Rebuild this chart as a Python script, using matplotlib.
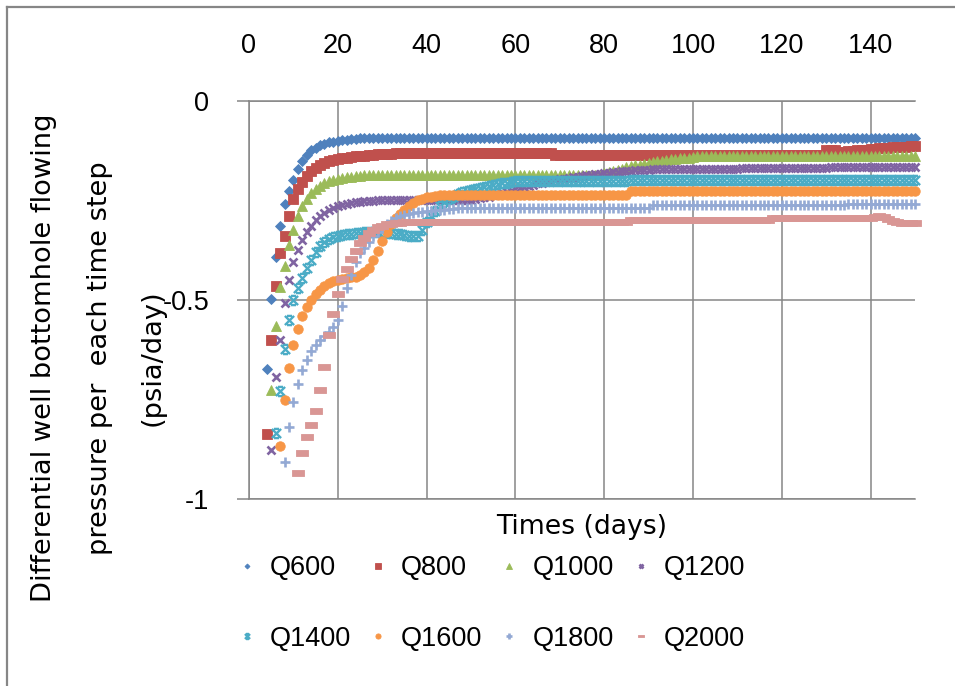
import numpy as np
import matplotlib
matplotlib.use("Agg")
import matplotlib.pyplot as plt
from matplotlib.path import Path
from matplotlib.lines import Line2D

# ---------------- data ----------------
series_names = ["Q600", "Q800", "Q1000", "Q1200", "Q1400", "Q1600", "Q1800", "Q2000"]
start_days = [4, 4, 5, 5, 6, 7, 8, 11]   # first time step (days) of each series, step = 1 day

q600 = [
    -0.673, -0.497, -0.391, -0.313, -0.258, -0.225, -0.198, -0.172, -0.150, -0.135,
    -0.124, -0.117, -0.111, -0.107, -0.104, -0.102, -0.100, -0.098, -0.097, -0.096,
    -0.095, -0.094,
    -0.093, -0.093, -0.093, -0.093, -0.093, -0.093, -0.093, -0.093, -0.093, -0.093,
    -0.093, -0.093, -0.093, -0.093, -0.093, -0.093, -0.093, -0.093, -0.093, -0.093,
    -0.093, -0.093, -0.093, -0.093, -0.093, -0.093, -0.093, -0.093, -0.093, -0.093,
    -0.093, -0.093, -0.093, -0.093, -0.093, -0.093, -0.093, -0.093, -0.093, -0.093,
    -0.093, -0.093, -0.093, -0.093, -0.093, -0.093, -0.093, -0.093, -0.093, -0.093,
    -0.093, -0.093, -0.093, -0.093, -0.093, -0.093, -0.093, -0.093, -0.093, -0.093,
    -0.093, -0.093, -0.093, -0.093, -0.093, -0.093, -0.093, -0.093, -0.093, -0.093,
    -0.093, -0.093, -0.093, -0.093, -0.093, -0.093, -0.093, -0.093, -0.093, -0.093,
    -0.093, -0.093, -0.093, -0.093, -0.093, -0.093, -0.093, -0.093, -0.093, -0.093,
    -0.093, -0.093, -0.093, -0.093, -0.093, -0.093, -0.093, -0.093, -0.093, -0.093,
    -0.093, -0.093, -0.093, -0.093, -0.093, -0.093, -0.093, -0.093, -0.093, -0.093,
    -0.093, -0.093, -0.093, -0.093, -0.093, -0.093, -0.093, -0.093, -0.093, -0.093,
    -0.093, -0.093, -0.093, -0.093, -0.093,
]

q800 = [
    -0.836, -0.601, -0.465, -0.381, -0.338, -0.288, -0.247, -0.222, -0.203, -0.188,
    -0.177, -0.168, -0.161, -0.156, -0.152, -0.149, -0.146, -0.144, -0.142, -0.140,
    -0.139, -0.138, -0.137, -0.136, -0.135, -0.134, -0.133, -0.132, -0.132, -0.131,
    -0.131,
    -0.130, -0.130, -0.130, -0.130, -0.130, -0.130, -0.130, -0.130, -0.130, -0.130,
    -0.130, -0.130, -0.130, -0.130, -0.130, -0.130, -0.130, -0.130, -0.130, -0.130,
    -0.130, -0.130, -0.130, -0.130, -0.130, -0.130, -0.130, -0.130, -0.130, -0.130,
    -0.130, -0.130, -0.130, -0.130,
    -0.135, -0.135, -0.135, -0.135, -0.135, -0.135, -0.135, -0.135, -0.135, -0.135,
    -0.135, -0.135, -0.135, -0.135, -0.135, -0.135, -0.135, -0.135, -0.135, -0.135,
    -0.135, -0.135, -0.135, -0.135, -0.135, -0.135, -0.135, -0.135, -0.135, -0.135,
    -0.135, -0.135, -0.135, -0.135, -0.135, -0.135, -0.135, -0.135, -0.135, -0.135,
    -0.135, -0.135, -0.135, -0.135, -0.135, -0.135, -0.135, -0.135, -0.135, -0.135,
    -0.135, -0.135, -0.135, -0.135, -0.135, -0.135, -0.135, -0.135, -0.135, -0.135,
    -0.135,
    -0.123, -0.122, -0.122, -0.128, -0.128, -0.126, -0.125, -0.124, -0.123, -0.122,
    -0.121, -0.120, -0.119, -0.118, -0.117, -0.116, -0.116, -0.115, -0.115, -0.114,
    -0.114,
]

q1000 = [
    -0.727, -0.566, -0.467, -0.415, -0.361, -0.323, -0.289, -0.264, -0.245, -0.231,
    -0.221, -0.213, -0.207, -0.202, -0.199, -0.196, -0.194, -0.192, -0.190, -0.189,
    -0.188,
    -0.187, -0.187, -0.187, -0.187, -0.187, -0.187, -0.187, -0.187, -0.187, -0.187,
    -0.187, -0.187, -0.187, -0.187, -0.187, -0.187, -0.187, -0.187, -0.187, -0.187,
    -0.187, -0.187, -0.187, -0.187, -0.187, -0.187, -0.187, -0.187, -0.187, -0.187,
    -0.187, -0.187, -0.187, -0.187, -0.187, -0.187, -0.187, -0.187, -0.187, -0.187,
    -0.187, -0.187, -0.187, -0.187, -0.187, -0.187, -0.187, -0.187, -0.187, -0.187,
    -0.187, -0.187, -0.187,
    -0.185, -0.182, -0.179, -0.176, -0.173, -0.170, -0.167, -0.164, -0.162, -0.160,
    -0.158, -0.156, -0.154, -0.152, -0.150, -0.148, -0.146, -0.145, -0.144, -0.143,
    -0.142, -0.141,
    -0.139, -0.139, -0.139, -0.139, -0.139, -0.139, -0.139, -0.139, -0.139, -0.139,
    -0.139, -0.139, -0.139, -0.139, -0.139, -0.139, -0.139, -0.139, -0.139, -0.139,
    -0.139, -0.139, -0.139, -0.139, -0.139, -0.139, -0.139, -0.139, -0.139, -0.139,
    -0.139, -0.139, -0.139, -0.139, -0.139, -0.139, -0.139, -0.139, -0.139, -0.139,
    -0.139, -0.139, -0.139, -0.139, -0.139, -0.139, -0.139, -0.139, -0.139, -0.139,
]

q1200 = [
    -0.876, -0.693, -0.601, -0.507, -0.450, -0.405, -0.375, -0.350, -0.330, -0.314,
    -0.300, -0.290, -0.281, -0.274, -0.269, -0.265, -0.262, -0.259, -0.257, -0.255,
    -0.253, -0.252, -0.251, -0.250, -0.249,
    -0.248, -0.248, -0.248, -0.248, -0.248, -0.248, -0.248, -0.248, -0.248, -0.248,
    -0.248, -0.248, -0.248, -0.248, -0.248, -0.248, -0.248, -0.248, -0.248, -0.248,
    -0.248,
    -0.246, -0.244, -0.242, -0.240, -0.237, -0.234, -0.231, -0.228, -0.225, -0.222,
    -0.219, -0.216, -0.213, -0.210, -0.207, -0.205, -0.203, -0.201, -0.199, -0.197,
    -0.195, -0.193, -0.191, -0.190, -0.188, -0.187, -0.185, -0.184, -0.183, -0.181,
    -0.180, -0.179, -0.178, -0.177, -0.176, -0.175, -0.174, -0.174, -0.173, -0.173,
    -0.171, -0.171, -0.171, -0.171, -0.171, -0.171, -0.171, -0.171, -0.171, -0.171,
    -0.171, -0.171, -0.171, -0.171, -0.171, -0.171, -0.171, -0.171, -0.171, -0.171,
    -0.169, -0.169, -0.169, -0.169, -0.169, -0.169, -0.169, -0.169, -0.169, -0.169,
    -0.169, -0.169, -0.169, -0.169, -0.169, -0.169, -0.169, -0.169, -0.169, -0.169,
    -0.167, -0.167, -0.167, -0.167, -0.167, -0.167, -0.167, -0.167, -0.167, -0.167,
    -0.167, -0.167, -0.167, -0.167, -0.167, -0.167, -0.167, -0.167, -0.167, -0.167,
]

q1400 = [
    -0.834, -0.729, -0.624, -0.551, -0.499, -0.470, -0.445, -0.420, -0.400, -0.380,
    -0.365, -0.355, -0.347, -0.342, -0.339, -0.337, -0.335, -0.333, -0.332, -0.331,
    -0.330, -0.330, -0.330, -0.330, -0.330, -0.331, -0.332, -0.333, -0.335, -0.337,
    -0.339, -0.340, -0.338, -0.325, -0.305, -0.288, -0.276, -0.264, -0.255, -0.247,
    -0.240, -0.234, -0.229, -0.226, -0.223, -0.220, -0.218, -0.215, -0.213, -0.211,
    -0.209, -0.207, -0.205, -0.204, -0.202, -0.201, -0.200,
    -0.200, -0.200, -0.200, -0.200, -0.200, -0.200, -0.200, -0.200, -0.200, -0.200,
    -0.200, -0.200, -0.200, -0.200, -0.200, -0.200, -0.200, -0.200, -0.200, -0.200,
    -0.200, -0.200, -0.200,
    -0.198, -0.198, -0.198, -0.198, -0.198, -0.198, -0.198, -0.198, -0.198, -0.198,
    -0.198, -0.198, -0.198, -0.198, -0.198, -0.198, -0.198, -0.198, -0.198, -0.198,
    -0.198, -0.198, -0.198, -0.198, -0.198, -0.198, -0.198, -0.198, -0.198, -0.198,
    -0.198, -0.198, -0.198, -0.198, -0.198, -0.198, -0.198, -0.198, -0.198, -0.198,
    -0.198, -0.198, -0.198, -0.198, -0.198, -0.198, -0.198, -0.198, -0.198, -0.198,
    -0.198, -0.198, -0.198, -0.198, -0.198, -0.198, -0.198, -0.198, -0.198, -0.198,
    -0.198, -0.198, -0.198, -0.198, -0.198,
]

q1600 = [
    -0.866, -0.750, -0.670, -0.614, -0.572, -0.541, -0.517, -0.499, -0.486, -0.474,
    -0.465, -0.458, -0.453, -0.449, -0.446, -0.444, -0.443, -0.442, -0.438, -0.430,
    -0.420, -0.400, -0.377, -0.352, -0.330, -0.310, -0.295, -0.283, -0.274, -0.265,
    -0.256, -0.249, -0.245, -0.242, -0.240, -0.238, -0.237, -0.236, -0.236,
    -0.235, -0.235, -0.235, -0.235, -0.235, -0.235, -0.235, -0.235, -0.235, -0.235,
    -0.235, -0.235, -0.235, -0.235, -0.235, -0.235, -0.235, -0.235, -0.235, -0.235,
    -0.235, -0.235, -0.235, -0.235, -0.235, -0.235, -0.235, -0.235, -0.235, -0.235,
    -0.235, -0.235, -0.235, -0.235, -0.235, -0.235, -0.235, -0.235, -0.235, -0.235,
    -0.227, -0.227, -0.227, -0.227, -0.227, -0.227, -0.227, -0.227, -0.227, -0.227,
    -0.227, -0.227, -0.227, -0.227, -0.227, -0.227, -0.227, -0.227, -0.227, -0.227,
    -0.227, -0.227, -0.227, -0.227, -0.227, -0.227, -0.227, -0.227, -0.227, -0.227,
    -0.227, -0.227, -0.227, -0.227, -0.227, -0.227, -0.227, -0.227, -0.227, -0.227,
    -0.227, -0.227, -0.227, -0.227, -0.227, -0.227, -0.227, -0.227, -0.227, -0.227,
    -0.227, -0.227, -0.227, -0.227, -0.227, -0.227, -0.227, -0.227, -0.227, -0.227,
    -0.227, -0.227, -0.227, -0.227, -0.227,
]

q1800 = [
    -0.907, -0.819, -0.757, -0.712, -0.675, -0.650, -0.629, -0.614, -0.600, -0.590,
    -0.580, -0.568, -0.549, -0.516, -0.469, -0.436, -0.405, -0.383, -0.370, -0.355,
    -0.340, -0.330, -0.318, -0.309, -0.301, -0.295, -0.290, -0.286, -0.283, -0.281,
    -0.279, -0.278, -0.277, -0.276, -0.275, -0.274, -0.273, -0.272, -0.271, -0.270,
    -0.269, -0.269,
    -0.268, -0.268, -0.268, -0.268, -0.268, -0.268, -0.268, -0.268, -0.268, -0.268,
    -0.268, -0.268, -0.268, -0.268, -0.268, -0.268, -0.268, -0.268, -0.268, -0.268,
    -0.268, -0.268, -0.268, -0.268, -0.268, -0.268, -0.268, -0.268, -0.268, -0.268,
    -0.268, -0.268, -0.268, -0.268, -0.268, -0.268, -0.268, -0.268, -0.268, -0.268,
    -0.268,
    -0.262, -0.262, -0.262, -0.262, -0.262, -0.262, -0.262, -0.262, -0.262, -0.262,
    -0.262, -0.262, -0.262, -0.262, -0.262, -0.262, -0.262, -0.262, -0.262, -0.262,
    -0.262, -0.262, -0.262, -0.262, -0.262, -0.262, -0.262, -0.262, -0.262, -0.262,
    -0.262, -0.262, -0.262, -0.262, -0.262, -0.262, -0.262, -0.262, -0.262, -0.262,
    -0.262, -0.262, -0.262, -0.262,
    -0.258, -0.258, -0.258, -0.258, -0.258, -0.258, -0.258, -0.258, -0.258, -0.258,
    -0.258, -0.258, -0.258, -0.258, -0.258, -0.258,
]

q2000 = [
    -0.934, -0.884, -0.845, -0.815, -0.780, -0.725, -0.668, -0.589, -0.535, -0.486,
    -0.448, -0.422, -0.396, -0.377, -0.356, -0.343, -0.332, -0.323, -0.317, -0.313,
    -0.310, -0.308, -0.307, -0.306,
    -0.305, -0.305, -0.305, -0.305, -0.305, -0.305, -0.305, -0.305, -0.305, -0.305,
    -0.305, -0.305, -0.305, -0.305, -0.305, -0.305, -0.305, -0.305, -0.305, -0.305,
    -0.305, -0.305, -0.305, -0.305, -0.305, -0.305, -0.305, -0.305, -0.305, -0.305,
    -0.305, -0.305, -0.305, -0.305, -0.305, -0.305, -0.305, -0.305, -0.305, -0.305,
    -0.305, -0.305, -0.305, -0.305, -0.305, -0.305, -0.305, -0.305, -0.305, -0.305,
    -0.305,
    -0.300, -0.300, -0.300, -0.300, -0.300, -0.300, -0.300, -0.300, -0.300, -0.300,
    -0.300, -0.300, -0.300, -0.300, -0.300, -0.300, -0.300, -0.300, -0.300, -0.300,
    -0.300, -0.300, -0.300, -0.300, -0.300, -0.300, -0.300, -0.300, -0.300, -0.300,
    -0.300, -0.300,
    -0.295, -0.295, -0.295, -0.295, -0.295, -0.295, -0.295, -0.295, -0.295, -0.295,
    -0.295, -0.295, -0.295, -0.295, -0.295, -0.295, -0.295, -0.295, -0.295, -0.295,
    -0.295, -0.295, -0.295,
    -0.292, -0.290, -0.292, -0.297, -0.302, -0.305, -0.306, -0.307, -0.307, -0.307,
]

x_ticks = [0, 20, 40, 60, 80, 100, 120, 140]
x_tick_labels = ["0", "20", "40", "60", "80", "100", "120", "140"]
y_ticks = [-1, -0.5, 0]
y_tick_labels = ["-1", "-0.5", "0"]

x_title = "Times (days)"
y_title_lines = ["Differential well bottomhole flowing",
                 "pressure per  each time step",
                 "(psia/day)"]

# ---------------- styling ----------------
colors = ["#4F81BD", "#C0504D", "#9BBB59", "#8064A2",
          "#4BACC6", "#F79646", "#93A9D4", "#D99694"]

star_path = Path([(-1, -1), (1, 1), (-1, 1), (1, -1),
                  (-0.55, 1), (0.55, 1), (-0.55, -1), (0.55, -1)],
                 [Path.MOVETO, Path.LINETO, Path.MOVETO, Path.LINETO,
                  Path.MOVETO, Path.LINETO, Path.MOVETO, Path.LINETO])
dash_path = Path([(-1, -0.42), (1, -0.42), (1, 0.42), (-1, 0.42), (-1, -0.42)],
                 [Path.MOVETO, Path.LINETO, Path.LINETO, Path.LINETO, Path.CLOSEPOLY])

markers = ["D", "s", "^", "x", star_path, "o", "+", dash_path]
msizes = [4.6, 6.8, 7.2, 6.4, 6.6, 6.8, 7.6, 9.0]
mews = [0.6, 0.6, 0.6, 1.9, 1.7, 0.6, 1.9, 0.6]

tick_font = ["Liberation Sans", "DejaVu Sans"]
title_font = ["DejaVu Sans"]

grid_color = "#868686"

W, H = 955, 686
fig = plt.figure(figsize=(W / 100, H / 100), dpi=100)
fig.patch.set_facecolor("white")

# plot-area in pixels: left 249, right 915, top 101, bottom 499
ax = fig.add_axes([249 / W, 1 - 499 / H, (915 - 249) / W, (499 - 101) / H])

all_series = [q600, q800, q1000, q1200, q1400, q1600, q1800, q2000]
handles = []
for name, start, vals, c, m, ms, mew in zip(series_names, start_days, all_series,
                                          colors, markers, msizes, mews):
    t = np.arange(start, start + len(vals))
    (h,) = ax.plot(t, vals, ls="none", marker=m, ms=ms, mfc=c, mec=c, mew=mew,
                   clip_on=False, zorder=3, label=name)
    handles.append(h)

ax.set_xlim(0, 150)
ax.set_ylim(-1, 0)
ax.set_xticks(x_ticks)
ax.set_xticklabels(x_tick_labels)
ax.set_yticks(y_ticks)
ax.set_yticklabels(y_tick_labels)
ax.xaxis.tick_top()
ax.tick_params(axis="x", length=0, pad=30, labelsize=19.5, colors="black")
ax.tick_params(axis="y", direction="out", length=8.6, width=1.1, color=grid_color,
               pad=20, labelsize=19.5)
for lab in ax.get_xticklabels() + ax.get_yticklabels():
    lab.set_family(tick_font)

ax.grid(True, color=grid_color, lw=1.1, zorder=0)
ax.set_axisbelow(True)
for side in ["top", "left", "bottom"]:
    ax.spines[side].set_color(grid_color)
    ax.spines[side].set_linewidth(1.1)
ax.spines["right"].set_visible(False)

# axis titles
fig.text(582 / W, 1 - 527 / H, x_title, ha="center", va="center",
         fontsize=19.2, family=title_font)
for xpix, line in zip([44, 100, 153], y_title_lines):
    fig.text(xpix / W, 1 - 358 / H, line, ha="center", va="center",
             rotation=90, fontsize=19.6, family=title_font)

# legend (row-major order across 4 columns)
order = [0, 4, 1, 5, 2, 6, 3, 7]
leg = fig.legend([handles[i] for i in order], [series_names[i] for i in order],
                 ncol=4, loc="upper left", bbox_to_anchor=(233 / W, 1 - 555 / H),
                 frameon=False, prop={"family": tick_font, "size": 19.5},
                 handlelength=1.0, handletextpad=0.35, columnspacing=0.5,
                 labelspacing=1.65, markerscale=0.55, borderpad=0, borderaxespad=0,
                 numpoints=1)

# chart-area border (left and top visible)
fig.add_artist(Line2D([7 / W, 7 / W], [0, 1 - 7 / H], color=grid_color, lw=1.6,
                      transform=fig.transFigure))
fig.add_artist(Line2D([7 / W, 1], [1 - 7 / H, 1 - 7 / H], color=grid_color, lw=1.6,
                      transform=fig.transFigure))

fig.savefig("out.png", dpi=100, facecolor="white")
